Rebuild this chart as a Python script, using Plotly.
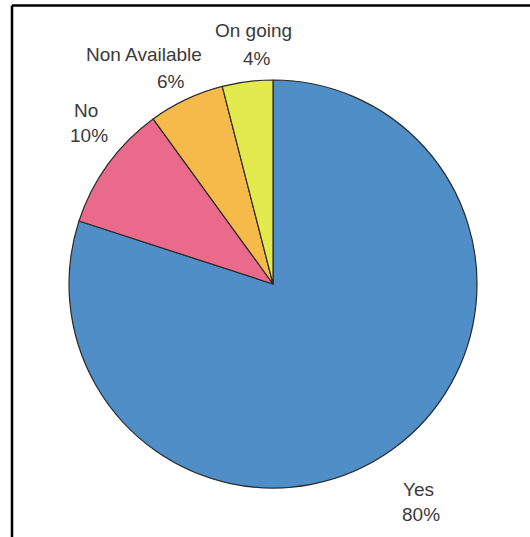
import plotly.graph_objects as go

# Survey answers and their shares (%)
categories = ["Yes", "No", "Non Available", "On going"]
shares = [80, 10, 6, 4]

slice_colors = ["#4F8EC6", "#E96A8B", "#F6BA4B", "#E3EA4D"]

W, H = 530, 537
# pie centre and radius in pixels
cx, cy, r = 273, 284, 204

# label anchors (pixel centres of the name line and the percentage line)
label_pos = {
    "Yes": ((418, 489), (421, 514)),
    "No": ((86, 110), (89, 135)),
    "Non Available": ((144, 55), (171, 81)),
    "On going": ((253, 31), (257, 59)),
}

fig = go.Figure(
    go.Pie(
        labels=categories,
        values=shares,
        sort=False,
        direction="clockwise",
        rotation=0,
        textinfo="none",
        hoverinfo="label+percent",
        marker=dict(colors=slice_colors, line=dict(color="#2b2b2b", width=1.2)),
        domain=dict(
            x=[(cx - r) / W, (cx + r) / W],
            y=[1 - (cy + r) / H, 1 - (cy - r) / H],
        ),
        showlegend=False,
    )
)

font = dict(family="Liberation Sans, Arial, sans-serif", size=19, color="#3a3a3a")
annotations = []
for name, val in zip(categories, shares):
    (nx, ny), (px, py) = label_pos[name]
    annotations.append(dict(x=nx / W, y=1 - ny / H, xref="paper", yref="paper",
                            text=name, showarrow=False, font=font,
                            xanchor="center", yanchor="middle"))
    annotations.append(dict(x=px / W, y=1 - py / H, xref="paper", yref="paper",
                            text=f"{val}%", showarrow=False, font=font,
                            xanchor="center", yanchor="middle"))

# frame: top and left edges
shapes = [
    dict(type="line", xref="paper", yref="paper",
         x0=12 / W, y0=1 - 5.5 / H, x1=1, y1=1 - 5.5 / H,
         line=dict(color="black", width=2.5)),
    dict(type="line", xref="paper", yref="paper",
         x0=12 / W, y0=1 - 5.5 / H, x1=12 / W, y1=0,
         line=dict(color="black", width=2.5)),
]

fig.update_layout(
    width=W, height=H,
    margin=dict(l=0, r=0, t=0, b=0),
    paper_bgcolor="white",
    plot_bgcolor="white",
    annotations=annotations,
    shapes=shapes,
)

fig.write_html("out.html")
